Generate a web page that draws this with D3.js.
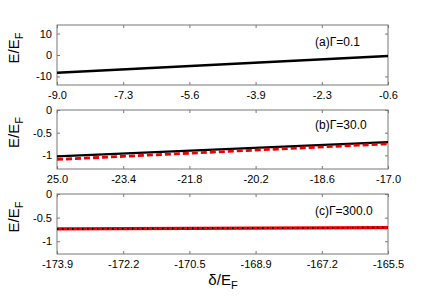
<!DOCTYPE html>
<html>
<head>
<meta charset="utf-8">
<script src="https://cdn.jsdelivr.net/npm/d3@7"></script>
<style>
  body { margin: 0; background: #fff; }
  svg { font-family: "Liberation Sans", Arial, sans-serif; }
  .frame { fill: none; stroke: #777; stroke-width: 1; }
  .axis path { display: none; }
  .axis line { stroke: #777; }
  .axis text { fill: #000; font-size: 11px; }
</style>
</head>
<body>
<div id="chart"></div>
<script>
// panel titles
const panelLabels = ['(a)\u0393=0.1', '(b)\u0393=30.0', '(c)\u0393=300.0'];

// x tick labels per panel (evenly spaced across the x range)
const xTicksA = ['-9.0', '-7.3', '-5.6', '-3.9', '-2.3', '-0.6'];
const xTicksB = ['25.0', '-23.4', '-21.8', '-20.2', '-18.6', '-17.0'];
const xTicksC = ['-173.9', '-172.2', '-170.5', '-168.9', '-167.2', '-165.5'];

// y ticks per panel
const yTicksA = [10, 0, -10];
const yTicksB = [0, -0.5, -1];
const yTicksC = [0, -0.5, -1];

// y ranges
const yDomA = [-14, 14];
const yDomB = [-1.3, 0];
const yDomC = [-1.27, 0];

// series: [delta, E]
const solidA = [[-9.0, -8.3], [-0.6, -0.5]];
const solidB = [[-25.0, -1.02], [-17.0, -0.71]];
const dashB = [[-25.0, -1.09], [-17.0, -0.745]];
const redC = [[-173.9, -0.74], [-165.5, -0.71]];
const dotC = [[-173.9, -0.74], [-165.5, -0.71]];

const width = 430, height = 299;
const svg = d3.select('#chart').append('svg')
  .attr('width', width).attr('height', height);

const left = 57, right = 388;
const panels = [
  { top: 25, bottom: 85, xt: xTicksA, xdom: [-9.0, -0.6], yt: yTicksA, ydom: yDomA, label: panelLabels[0], ly: 42,
    lines: [{ d: solidA, color: '#000', w: 2.5 }] },
  { top: 110, bottom: 169, xt: xTicksB, xdom: [-25.0, -17.0], yt: yTicksB, ydom: yDomB, label: panelLabels[1], ly: 125,
    lines: [{ d: solidB, color: '#000', w: 2.2 }, { d: dashB, color: '#e00', w: 2.8, dash: '6,3' }] },
  { top: 194, bottom: 254, xt: xTicksC, xdom: [-173.9, -165.5], yt: yTicksC, ydom: yDomC, label: panelLabels[2], ly: 211,
    lines: [{ d: redC, color: '#e00', w: 3.2 }, { d: dotC, color: '#000', w: 1.6, dash: '1.5,3.5' }] }
];

panels.forEach(p => {
  const g = svg.append('g');
  const x = d3.scaleLinear().domain(p.xdom).range([left, right]);
  const y = d3.scaleLinear().domain(p.ydom).range([p.bottom, p.top]);
  const xVals = p.xt.map((t, i) => p.xdom[0] + i * (p.xdom[1] - p.xdom[0]) / (p.xt.length - 1));

  g.append('rect').attr('class', 'frame')
    .attr('x', left).attr('y', p.top)
    .attr('width', right - left).attr('height', p.bottom - p.top);

  g.append('g').attr('class', 'axis')
    .attr('transform', `translate(0,${p.bottom})`)
    .call(d3.axisBottom(x).tickValues(xVals).tickSizeInner(-3).tickPadding(6)
      .tickFormat((d, i) => p.xt[i]));
  g.append('g').attr('class', 'axis')
    .attr('transform', `translate(0,${p.top})`)
    .call(d3.axisTop(x).tickValues(xVals).tickSizeInner(-3).tickFormat(''));
  g.append('g').attr('class', 'axis')
    .attr('transform', `translate(${left},0)`)
    .call(d3.axisLeft(y).tickValues(p.yt).tickSizeInner(-3).tickPadding(5)
      .tickFormat(d => d === 0 ? '0' : String(d)));
  g.append('g').attr('class', 'axis')
    .attr('transform', `translate(${right},0)`)
    .call(d3.axisRight(y).tickValues(p.yt).tickSizeInner(-3).tickFormat(''));

  const line = d3.line().x(d => x(d[0])).y(d => y(d[1]));
  const clipId = 'clip' + p.top;
  g.append('clipPath').attr('id', clipId).append('rect')
    .attr('x', left).attr('y', p.top).attr('width', right - left).attr('height', p.bottom - p.top);
  p.lines.forEach(l => {
    g.append('path').datum(l.d)
      .attr('clip-path', `url(#${clipId})`)
      .attr('d', line).attr('fill', 'none')
      .attr('stroke', l.color).attr('stroke-width', l.w)
      .attr('stroke-dasharray', l.dash || null);
  });

  g.append('text').attr('x', 315).attr('y', p.ly + 4)
    .attr('font-size', 12).text(p.label);

  // y label
  const yl = g.append('text')
    .attr('transform', `translate(19,${(p.top + p.bottom) / 2 - 7}) rotate(-90)`)
    .attr('text-anchor', 'middle').attr('font-size', 15);
  yl.append('tspan').text('E/E');
  yl.append('tspan').attr('font-size', 11).attr('dy', 4).text('F');
});

const xl = svg.append('text').attr('x', 223).attr('y', 285)
  .attr('text-anchor', 'middle').attr('font-size', 15);
xl.append('tspan').text('\u03b4/E');
xl.append('tspan').attr('font-size', 11).attr('dy', 4).text('F');
</script>
</body>
</html>
